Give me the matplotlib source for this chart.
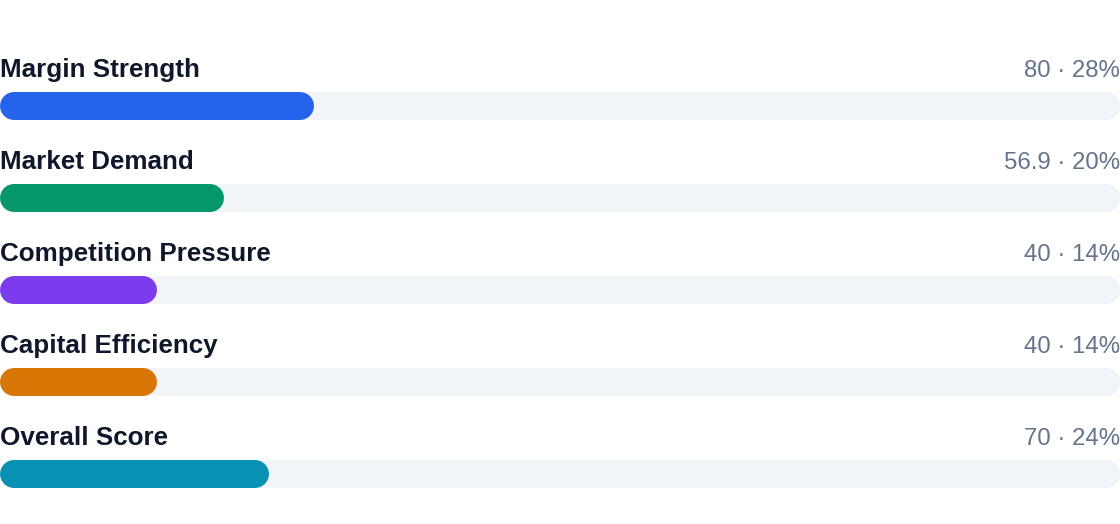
import matplotlib.pyplot as plt

plt.rcParams['font.family'] = ['Liberation Sans', 'DejaVu Sans']

## Datos
labels = ['Margin Strength', 'Market Demand', 'Competition Pressure',
          'Capital Efficiency', 'Overall Score']
scores = ['80', '56.9', '40', '40', '70']
shares = [28, 20, 14, 14, 24]
colors = ['#2563eb', '#059669', '#7c3aed', '#d97706', '#0891b2']

W, H = 1120, 524
row_h = 92
first_base = 77
bar_top = 92
bar_h = 28
px = W / 100.0   # pixels per percent

## Figura
fig = plt.figure(figsize=(W / 100, H / 100), dpi=100)
ax = fig.add_axes([0, 0, 1, 1])
ax.set_xlim(0, 100)
ax.set_ylim(H, 0)
ax.axis('off')

r = bar_h / 2 / px        # cap radius in percent units
lw = bar_h * 0.72         # bar thickness in points
for i, (lab, sc, sh, col) in enumerate(zip(labels, scores, shares, colors)):
    yc = bar_top + i * row_h + bar_h / 2
    base = first_base + i * row_h

    # pista y barra con extremos redondeados
    ax.plot([r, 100 - r], [yc, yc], color='#f1f5f9', lw=lw,
            solid_capstyle='round')
    ax.plot([r, sh - r], [yc, yc], color=col, lw=lw,
            solid_capstyle='round')

    ax.text(0, base, lab, fontsize=26 * 0.72, fontweight='bold',
            color='#0f172a', ha='left', va='baseline')
    ax.text(100, base, '%s \u00b7 %d%%' % (sc, sh), fontsize=24 * 0.72,
            color='#64748b', ha='right', va='baseline')

plt.savefig('out.png', dpi=100)
